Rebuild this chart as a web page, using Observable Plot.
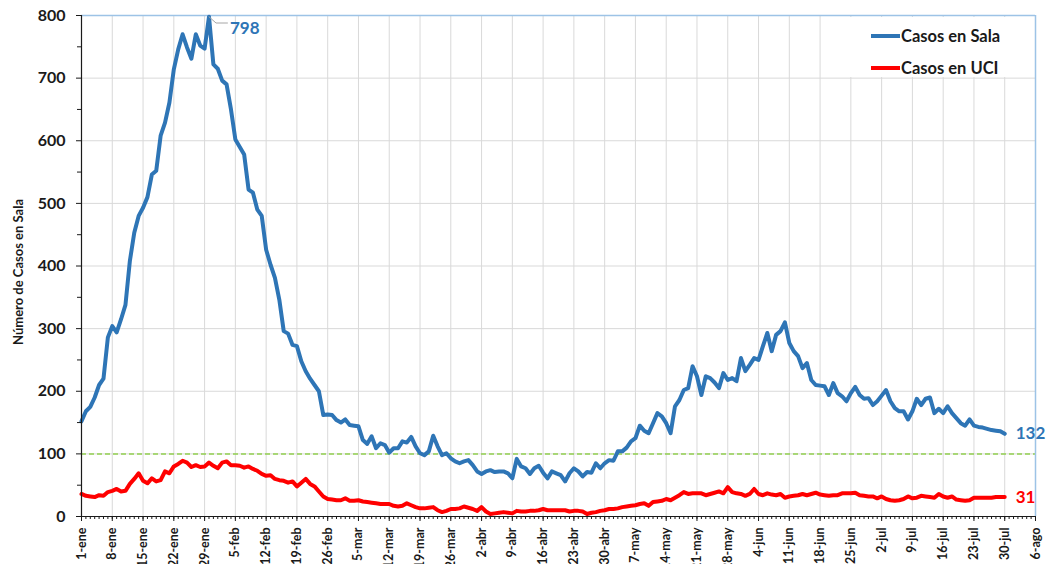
<!DOCTYPE html>
<html><head><meta charset="utf-8">
<script src="https://cdn.jsdelivr.net/npm/d3@7"></script>
<script src="https://cdn.jsdelivr.net/npm/@observablehq/plot@0.6"></script>
<style>
html,body{margin:0;padding:0;background:#fff;overflow:hidden;}
#wrap{position:relative;width:1046px;height:564px;overflow:hidden;font-family:Lato, sans-serif;}
#legend{position:absolute;left:850px;top:17px;width:180px;height:60px;background:#fff;}
.row{position:absolute;left:21px;height:20px;display:flex;align-items:center;font-weight:bold;font-size:16.5px;color:#1a1a1a;white-space:nowrap;}
.sw{width:29px;height:4px;margin-right:1px;}
</style></head><body><div id="wrap"></div>
<script>
const startDate = "2022-01-01";
const endDate = "2022-08-06";
const seriesNames = ["Casos en Sala", "Casos en UCI"];
const seriesColors = ["#2E75B6", "#FF0000"];
const yLabel = "Número de Casos en Sala";
const threshold = 100;
const yTicks = [0, 100, 200, 300, 400, 500, 600, 700, 800];
const yMinorTicks = [50, 150, 250, 350, 450, 550, 650, 750];
const xTickLabels = ["1-ene","8-ene","15-ene","22-ene","29-ene","5-feb","12-feb","19-feb","26-feb","5-mar","12-mar","19-mar","26-mar","2-abr","9-abr","16-abr","23-abr","30-abr","7-may","14-may","21-may","28-may","4-jun","11-jun","18-jun","25-jun","2-jul","9-jul","16-jul","23-jul","30-jul","6-ago"];

const salaValues = [152,168,175,190,210,220,286,304,294,315,
338,408,453,480,493,510,546,552,608,629,
661,714,746,770,749,731,770,752,747,798,
722,715,696,690,650,602,590,578,522,517,
490,480,426,402,381,346,296,292,274,272,
248,232,220,210,200,162,163,162,154,150,
155,146,145,144,122,116,128,109,117,114,
102,109,109,120,118,127,112,101,98,104,
129,112,98,101,93,88,85,88,90,82,
72,68,72,74,71,72,72,69,61,92,
80,77,68,77,81,70,61,72,69,66,
56,69,77,72,64,71,70,85,77,85,
90,89,104,104,110,120,125,145,137,133,
149,165,160,149,133,176,186,202,205,240,
224,194,224,221,214,205,229,218,221,216,
253,232,242,253,250,272,293,264,290,296,
310,277,264,256,237,245,218,210,209,208,
194,213,197,192,184,197,207,194,188,189,
178,184,193,202,184,173,168,168,155,168,
188,178,188,190,165,172,165,176,165,157,
149,145,155,145,143,142,140,138,137,136,
132];

const uciValues = [36,33,32,31,34,33,39,41,44,40,
41,52,60,69,57,53,61,56,58,72,
69,80,84,89,86,79,82,79,80,86,
81,77,86,88,82,82,81,78,80,76,
73,68,65,66,60,58,57,54,56,48,
54,60,52,48,40,32,28,27,26,26,
29,25,25,26,24,23,22,21,20,20,
20,17,16,17,21,18,15,13,13,14,
15,10,7,9,12,12,13,16,14,12,
9,15,8,4,5,6,7,6,5,9,
8,8,9,9,10,12,10,10,10,10,
10,8,9,9,8,4,6,7,9,10,
12,12,13,15,16,17,18,20,21,17,
23,24,25,28,26,30,34,39,36,37,
37,37,34,36,38,40,37,47,39,37,
36,33,36,44,36,34,37,35,34,36,
30,32,33,34,36,34,36,38,35,34,
33,34,34,37,37,37,38,34,33,32,
32,29,32,28,26,25,26,28,32,29,
30,33,32,31,30,36,32,30,32,27,
26,25,26,30,30,30,30,30,31,31,
31];

const start = new Date(startDate + "T00:00:00Z");
const end = new Date(endDate + "T00:00:00Z");
const sala = salaValues.map((v, i) => ({date: d3.utcDay.offset(start, i), value: v}));
const uci = uciValues.map((v, i) => ({date: d3.utcDay.offset(start, i), value: v}));
const weeks = xTickLabels.map((_, k) => d3.utcDay.offset(start, 7 * k));
const labelByTime = new Map(weeks.map((d, k) => [+d, xTickLabels[k]]));
const days = d3.utcDay.range(start, d3.utcDay.offset(end, 1));
const peak = d3.greatest(sala, d => d.value);
const lastSala = sala[sala.length - 1];
const lastUci = uci[uci.length - 1];
const leader = [
  {date: peak.date, value: peak.value},
  {date: new Date(+peak.date + 1.6 * 864e5), value: peak.value - 10},
  {date: new Date(+peak.date + 4.2 * 864e5), value: peak.value - 10}
];

const chart = Plot.plot({
  width: 1046, height: 600,
  marginTop: 15, marginLeft: 81, marginRight: 11, marginBottom: 84,
  style: {fontFamily: "Lato, sans-serif", fontWeight: "bold", background: "white", color: "#1a1a1a"},
  x: {type: "utc", domain: [start, end]},
  y: {domain: [0, 800]},
  marks: [
    Plot.gridX(weeks, {stroke: "#d9d9d9", strokeOpacity: 1}),
    Plot.gridY(yTicks, {stroke: "#d9d9d9", strokeOpacity: 1}),
    Plot.ruleY([threshold], {stroke: "#92D050", strokeWidth: 1.5, strokeDasharray: "5,3"}),
    Plot.ruleY([yTicks[yTicks.length - 1]], {stroke: "#9DC3E6", strokeWidth: 1.5}),
    Plot.ruleX([end], {stroke: "#9DC3E6", strokeWidth: 1.5}),
    Plot.line(uci, {x: "date", y: "value", stroke: seriesColors[1], strokeWidth: 4, strokeLinejoin: "round"}),
    Plot.line(sala, {x: "date", y: "value", stroke: seriesColors[0], strokeWidth: 4, strokeLinejoin: "round"}),
    Plot.line(leader, {x: "date", y: "value", stroke: "#a6a6a6", strokeWidth: 1}),
    Plot.ruleX([start], {stroke: "#1a1a1a", strokeWidth: 1.2}),
    Plot.ruleY([0], {stroke: "#1a1a1a", strokeWidth: 1.2}),
    Plot.axisY(yTicks, {tickSize: 5, tickPadding: 11, fontSize: 16, label: null}),
    Plot.axisY(yMinorTicks, {tickSize: 4, tickFormat: () => "", label: null}),
    Plot.axisX(weeks, {tickSize: 5, tickPadding: 6, tickRotate: -90, fontSize: 12.5, label: null, tickFormat: d => labelByTime.get(+d)}),
    Plot.axisX(days, {tickSize: 3, tickFormat: () => "", label: null}),
    Plot.text([yLabel], {frameAnchor: "left", textAnchor: "middle", rotate: -90, dx: -63, dy: 6, fontSize: 13, fontWeight: "bold", text: d => d}),
    Plot.text([peak], {x: "date", y: "value", text: d => String(d.value), dx: 21, dy: 12, textAnchor: "start", fill: seriesColors[0], fontSize: 17, fontWeight: "bold"}),
    Plot.text([lastSala], {x: "date", y: "value", text: d => String(d.value), dx: 11, textAnchor: "start", fill: seriesColors[0], fontSize: 17, fontWeight: "bold"}),
    Plot.text([lastUci], {x: "date", y: "value", text: d => String(d.value), dx: 11, textAnchor: "start", fill: seriesColors[1], fontSize: 17, fontWeight: "bold"})
  ]
});

const wrap = document.getElementById("wrap");
wrap.appendChild(chart);
const legend = document.createElement("div");
legend.id = "legend";
seriesNames.forEach((name, i) => {
  const row = document.createElement("div");
  row.className = "row";
  row.style.top = (i === 0 ? 9 : 41) + "px";
  const sw = document.createElement("div");
  sw.className = "sw";
  sw.style.background = seriesColors[i];
  const t = document.createElement("span");
  t.textContent = name;
  row.appendChild(sw); row.appendChild(t);
  legend.appendChild(row);
});
wrap.appendChild(legend);
</script></body></html>
